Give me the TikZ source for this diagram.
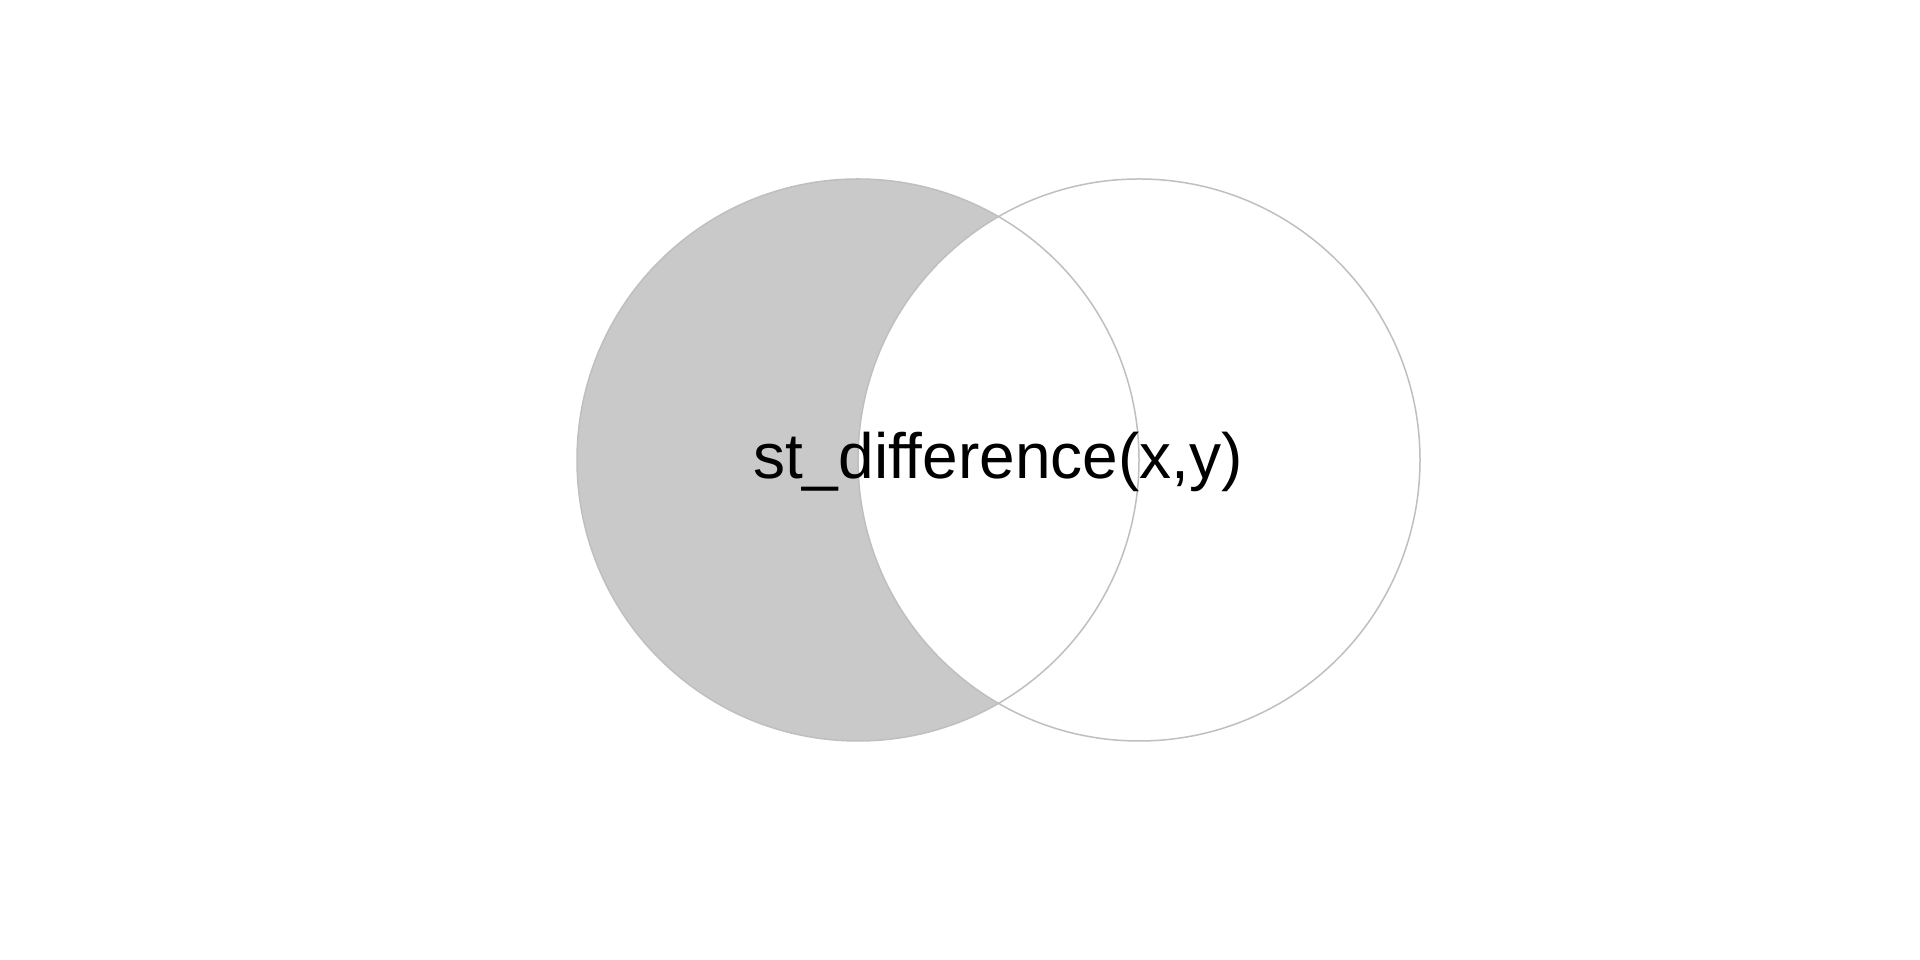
\documentclass[tikz,border=0pt]{standalone}
\usepackage{fontspec}
\setmainfont{Liberation Sans}
\definecolor{diffgray}{gray}{0.79}
\definecolor{rim}{gray}{0.75}
\begin{document}
\begin{tikzpicture}[x=1pt,y=1pt]
\path (0,0) -- (1920,960); % adjust bounding box
\fill[diffgray] (858,500) circle (281);
\fill[white] (1139,500) circle (281);
\draw[rim, line width=1.5pt]
     (858,500) circle (281)
     (1139,500) circle (281);
\node[anchor=base, inner sep=0pt, font=\fontsize{64}{72}\selectfont] (label)
  at (998,481) {st\_difference(x,y)};
\end{tikzpicture}
\end{document}
